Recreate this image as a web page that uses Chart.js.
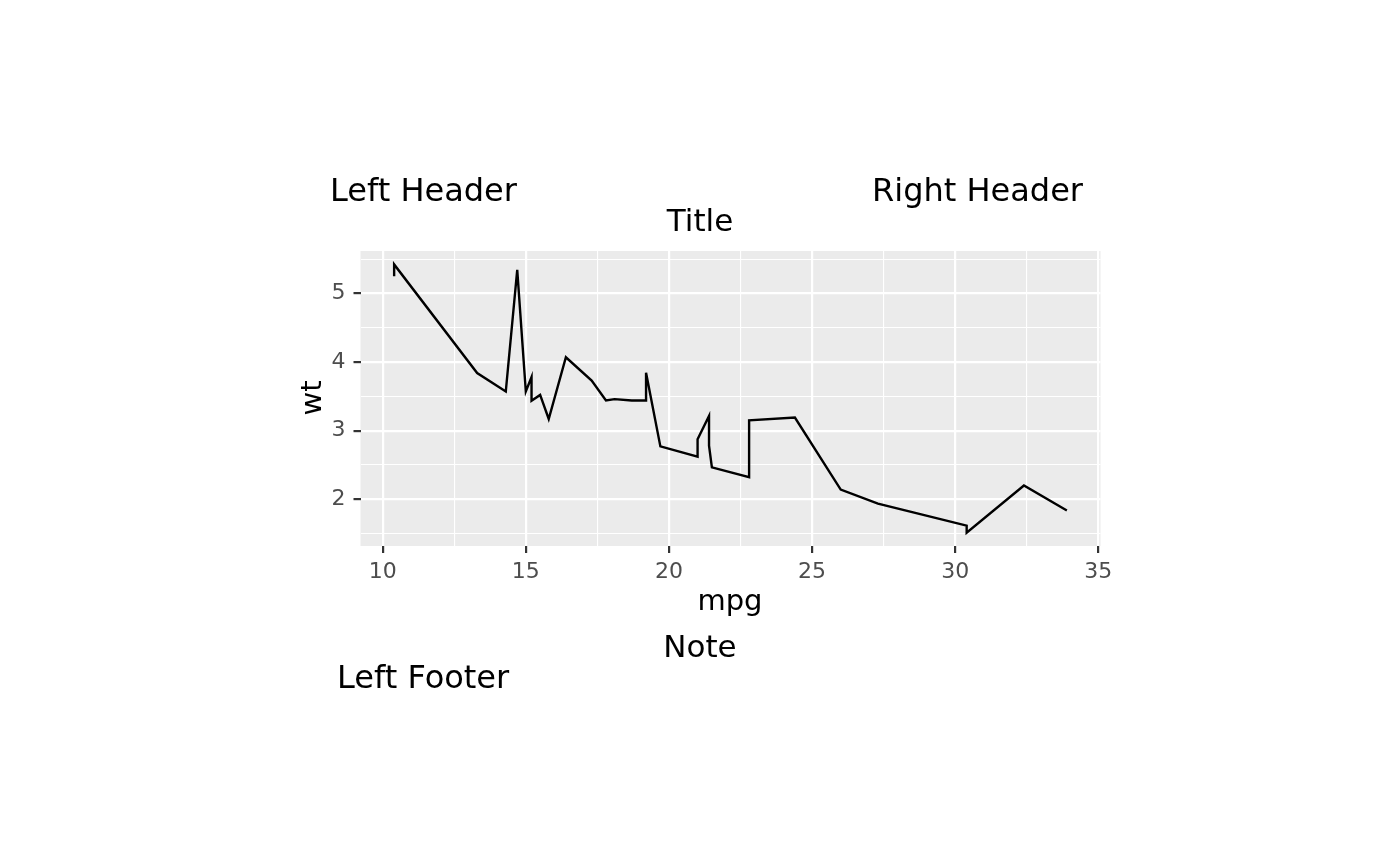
<!DOCTYPE html>
<html><head><meta charset="utf-8">
<script src="https://cdn.jsdelivr.net/npm/chart.js@4.4.1/dist/chart.umd.min.js"></script>
<style>html,body{margin:0;padding:0;background:#fff}#wrap{width:1400px;height:866px}</style>
</head><body><div id="wrap"><canvas id="c" width="1400" height="866"></canvas></div>
<script>
// mtcars, ordered by mpg (ties in data order)
const mpg = [10.4,10.4,13.3,14.3,14.7,15.0,15.2,15.2,15.5,15.8,16.4,17.3,17.8,18.1,18.7,19.2,19.2,19.7,21.0,21.0,21.4,21.4,21.5,22.8,22.8,24.4,26.0,27.3,30.4,30.4,32.4,33.9];
const wt  = [5.250,5.424,3.840,3.570,5.345,3.570,3.780,3.435,3.520,3.170,4.070,3.730,3.440,3.460,3.440,3.440,3.845,2.770,2.620,2.875,3.215,2.780,2.465,2.320,3.150,3.190,2.140,1.935,1.615,1.513,2.200,1.835];
const xMajor = [10,15,20,25,30,35];
const xMinor = [12.5,17.5,22.5,27.5,32.5];
const yMajor = [2,3,4,5];
const yMinor = [1.5,2.5,3.5,4.5,5.5];
const xLabel = "mpg", yLabel = "wt";
const titleText = "Title", noteText = "Note";
const leftHeader = "Left Header", rightHeader = "Right Header", leftFooter = "Left Footer";

const FONT = "'DejaVu Sans', sans-serif";
const points = mpg.map((x,i)=>({x:x, y:wt[i]}));
const isMajor = (axis, v) => (axis==='x'?xMajor:yMajor).some(m=>Math.abs(m-v)<1e-9);

const panelBg = {
  id:'panelBg',
  beforeDraw(chart){
    const {ctx, chartArea:a} = chart;
    ctx.save(); ctx.fillStyle='#EBEBEB';
    ctx.fillRect(a.left, a.top, a.right-a.left, a.bottom-a.top);
    ctx.restore();
  }
};
const texts = {
  id:'texts',
  afterDraw(chart){
    const ctx = chart.ctx;
    ctx.save();
    ctx.fillStyle = '#000';
    ctx.textBaseline = 'alphabetic';
    ctx.font = "32px " + FONT;
    ctx.textAlign='left'; ctx.fillText(leftHeader, 330, 201);
    ctx.textAlign='right'; ctx.fillText(rightHeader, 1083, 201);
    ctx.font = "31px " + FONT;
    ctx.textAlign='center'; ctx.fillText(titleText, 700, 231);
    ctx.fillText(noteText, 700, 657);
    ctx.font = "32px " + FONT;
    ctx.textAlign='left'; ctx.fillText(leftFooter, 337, 688);
    ctx.font = "29px " + FONT;
    ctx.textAlign='center'; ctx.fillText(xLabel, 730, 610);
    ctx.translate(321, 398); ctx.rotate(-Math.PI/2);
    ctx.fillText(yLabel, 0, 0);
    ctx.restore();
  }
};

new Chart(document.getElementById('c'), {
  type:'scatter',
  data:{ datasets:[{ data: points, showLine:true, borderColor:'#000', borderWidth:2.4,
    pointRadius:0, pointHoverRadius:0, fill:false, tension:0 }]},
  options:{
    responsive:false, animation:false, devicePixelRatio:1,
    layout:{ padding:{ left:299.5, right:299.5, top:251, bottom:260 } },
    plugins:{ legend:{display:false}, tooltip:{enabled:false}, title:{display:false} },
    scales:{
      x:{ type:'linear', min:9.225, max:35.075,
        afterBuildTicks(s){ s.ticks = [...xMajor, ...xMinor].sort((a,b)=>a-b).map(v=>({value:v})); },
        afterFit(s){ s.height = 60; },
        border:{display:false},
        grid:{ color:'#FFFFFF', lineWidth:c=>isMajor('x',c.tick.value)?2.2:1.1,
          tickColor:c=>isMajor('x',c.tick.value)?'#333333':'rgba(0,0,0,0)', tickLength:7, tickWidth:2.2 },
        ticks:{ color:'#4D4D4D', font:{family:FONT, size:22}, padding:6, maxRotation:0, autoSkip:false,
          callback:v=>isMajor('x',v)?String(v):'' }
      },
      y:{ type:'linear', min:1.3175, max:5.6195,
        afterBuildTicks(s){ s.ticks = [...yMajor, ...yMinor].sort((a,b)=>a-b).map(v=>({value:v})); },
        afterFit(s){ s.width = 61; },
        border:{display:false},
        grid:{ color:'#FFFFFF', lineWidth:c=>isMajor('y',c.tick.value)?2.2:1.1,
          tickColor:c=>isMajor('y',c.tick.value)?'#333333':'rgba(0,0,0,0)', tickLength:7, tickWidth:2.2 },
        ticks:{ color:'#4D4D4D', font:{family:FONT, size:22}, padding:8, autoSkip:false,
          callback:v=>isMajor('y',v)?String(v):'' }
      }
    }
  },
  plugins:[panelBg, texts]
});
</script></body></html>
